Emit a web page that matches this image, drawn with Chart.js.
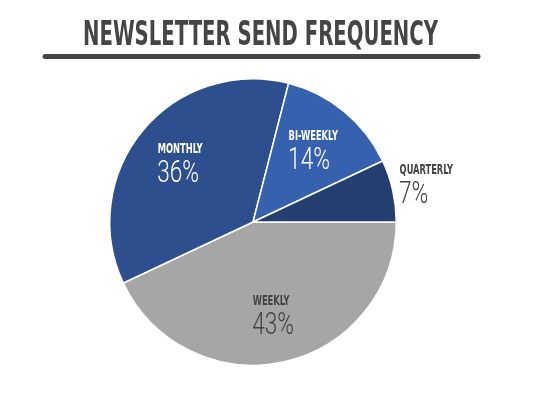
<!DOCTYPE html>
<html>
<head>
<meta charset="utf-8">
<script src="https://cdn.jsdelivr.net/npm/chart.js@4/dist/chart.umd.min.js"></script>
<style>
  html, body { margin: 0; padding: 0; background: #ffffff; }
  #wrap { width: 550px; height: 399px; position: relative; }
</style>
</head>
<body>
<div id="wrap"><canvas id="c" width="550" height="399"></canvas></div>
<script>
const chartTitle = 'NEWSLETTER SEND FREQUENCY';
const categories = ['WEEKLY', 'MONTHLY', 'BI-WEEKLY', 'QUARTERLY'];
const shares = [43, 36, 14, 7];
const sliceColors = ['#a6a6a6', '#2d4f8e', '#3561ae', '#243f6f'];
const labelColors = ['#434343', '#ffffff', '#ffffff', '#434343'];

const BOLD_FONT = '"DejaVu Sans Condensed", "Liberation Sans", sans-serif';
const LIGHT_FONT = 'Roboto, "Open Sans", Lato, sans-serif';

function drawScaled(ctx, text, x, y, scaleX) {
  ctx.save();
  ctx.translate(x, y);
  ctx.scale(scaleX, 1);
  ctx.fillText(text, 0, 0);
  ctx.restore();
}

const titlePlugin = {
  id: 'titleLine',
  afterDraw(chart) {
    const ctx = chart.ctx;
    ctx.save();
    ctx.fillStyle = '#454545';
    ctx.font = 'bold 34px ' + BOLD_FONT;
    ctx.textBaseline = 'alphabetic';
    ctx.textAlign = 'left';
    const w = ctx.measureText(chartTitle).width;
    const target = 355;
    const sx = target / w;
    drawScaled(ctx, chartTitle, 260.5 - target / 2, 45, sx);
    ctx.strokeStyle = '#454545';
    ctx.lineWidth = 5;
    ctx.lineCap = 'round';
    ctx.beginPath();
    ctx.moveTo(45, 56.5);
    ctx.lineTo(478, 56.5);
    ctx.stroke();
    ctx.restore();
  }
};

const sliceLabels = {
  id: 'sliceLabels',
  afterDatasetsDraw(chart) {
    const ctx = chart.ctx;
    const meta = chart.getDatasetMeta(0);
    ctx.save();
    meta.data.forEach((arc, i) => {
      const p = arc.getProps(['x', 'y', 'startAngle', 'endAngle', 'outerRadius'], true);
      const mid = (p.startAngle + p.endAngle) / 2;
      const outside = shares[i] < 10;
      const f = outside ? 1.24 : 0.66;
      const cx = p.x + Math.cos(mid) * p.outerRadius * f;
      const cy = p.y + Math.sin(mid) * p.outerRadius * f;
      const name = categories[i];
      const pct = shares[i] + '%';
      ctx.fillStyle = labelColors[i];
      ctx.textAlign = 'left';
      ctx.textBaseline = 'alphabetic';
      const s1 = 0.66, s2 = 0.73;
      const nameFont = 'bold 14px ' + BOLD_FONT;
      const pctFont = '300 31px ' + LIGHT_FONT;
      ctx.font = nameFont;
      const w1 = ctx.measureText(name).width * s1;
      ctx.font = pctFont;
      const w2 = ctx.measureText(pct).width * s2;
      const left = cx - Math.max(w1, w2) / 2;
      ctx.font = nameFont;
      drawScaled(ctx, name, left, cy - 9, s1);
      ctx.font = pctFont;
      drawScaled(ctx, pct, left - 0.5, cy + 20, s2);
    });
    ctx.restore();
  }
};

new Chart(document.getElementById('c'), {
  type: 'pie',
  data: {
    labels: categories,
    datasets: [{
      data: shares,
      backgroundColor: sliceColors,
      borderColor: '#ffffff',
      borderWidth: 1.5,
      hoverOffset: 0
    }]
  },
  options: {
    responsive: false,
    animation: false,
    rotation: 90,
    layout: { padding: { top: 78, bottom: 33, left: 109, right: 153 } },
    plugins: {
      legend: { display: false },
      tooltip: { enabled: false },
      title: { display: false }
    }
  },
  plugins: [titlePlugin, sliceLabels]
});
</script>
</body>
</html>
